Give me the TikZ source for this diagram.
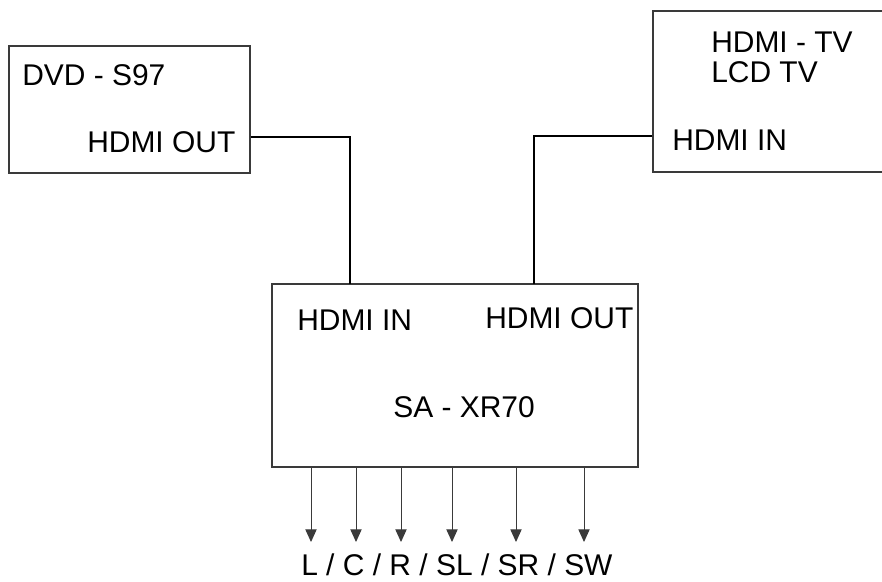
\documentclass[tikz,border=0pt]{standalone}
\usepackage{fontspec}
\setmainfont{Liberation Sans}
\usepackage{tikz}
\usetikzlibrary{arrows.meta,positioning,fit,calc}
\definecolor{frame}{HTML}{3A3A3A}
\definecolor{wire}{HTML}{000000}
\tikzset{
  devbox/.style={draw=frame,line width=0.8pt,fill=white,inner sep=0pt},
  lbl/.style={font=\fontsize{21.3}{25}\selectfont,inner sep=0pt,anchor=base west},
  link/.style={draw=wire,line width=1.4pt},
  arr/.style={-{Triangle[length=9pt,width=8pt]},line width=0.7pt,draw=frame},
}

\begin{document}
\begin{tikzpicture}[x=0.025cm,y=-0.025cm]
  \clip (0,0) rectangle (882,581);
  \fill[white] (0,0) rectangle (882,581);
  % devices
  \node[devbox,fit={(9,46) (250,173)}] (dvd) {};
  \node[devbox,fit={(653,11) (892,172)}] (tv) {};
  \node[devbox,fit={(272,284) (638,467)}] (sa) {};
  % texts
  \node[lbl] (dvdname) at (22,85) {DVD - S97};
  \node[lbl] (dvdout) at (87,152) {HDMI OUT};
  \node[lbl] (tvname) at (711,52) {HDMI - TV};
  \node[lbl] (tvkind) at (711,82) {LCD TV};
  \node[lbl] (tvin) at (672,150) {HDMI IN};
  \node[lbl] (sain) at (297,330) {HDMI IN};
  \node[lbl] (saout) at (485,328) {HDMI OUT};
  \node[lbl] (saname) at (393,417) {SA - XR70};
  \node[lbl] (chans) at (301,575) {L / C / R / SL / SR / SW};
  % hdmi links
  \coordinate (sainport) at (350,284);
  \coordinate (saoutport) at (534,284);
  \draw[link] (dvd.east |- 0,137) -| (sainport);
  \draw[link] (tv.west |- 0,136) -| (saoutport);
  % speaker outputs
  \foreach \x in {311,356,401,452,516,584}{
    \coordinate (tip\x) at (\x,542);
    \draw[arr] (sa.south -| tip\x) -- (tip\x);
  }
\end{tikzpicture}
\end{document}
